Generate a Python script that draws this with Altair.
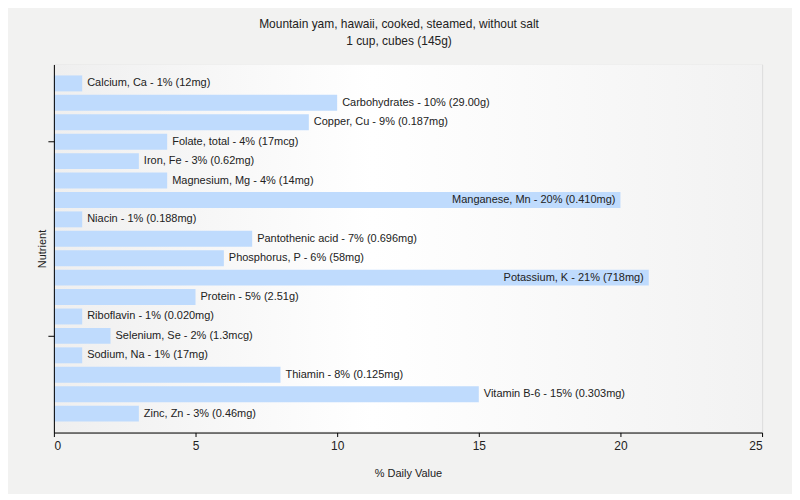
import altair as alt
import pandas as pd

nutrients = ["Calcium, Ca", "Carbohydrates", "Copper, Cu", "Folate, total", "Iron, Fe",
             "Magnesium, Mg", "Manganese, Mn", "Niacin", "Pantothenic acid", "Phosphorus, P",
             "Potassium, K", "Protein", "Riboflavin", "Selenium, Se", "Sodium, Na",
             "Thiamin", "Vitamin B-6", "Zinc, Zn"]
values = [1, 10, 9, 4, 3, 4, 20, 1, 7, 6, 21, 5, 1, 2, 1, 8, 15, 3]
amounts = ["12mg", "29.00g", "0.187mg", "17mcg", "0.62mg", "14mg", "0.410mg", "0.188mg",
           "0.696mg", "58mg", "718mg", "2.51g", "0.020mg", "1.3mcg", "17mg", "0.125mg",
           "0.303mg", "0.46mg"]

df = pd.DataFrame({"nutrient": nutrients, "value": values, "amount": amounts})
df["label"] = df["nutrient"] + " - " + df["value"].astype(str) + "% (" + df["amount"] + ")"

W, H = 710, 369

bg = alt.Chart(pd.DataFrame({"a": [0]})).mark_rect(
    color=alt.LinearGradient(
        gradient="linear", x1=0, x2=1, y1=0, y2=0,
        stops=[alt.GradientStop(color="#efefef", offset=0),
               alt.GradientStop(color="#ffffff", offset=0.45),
               alt.GradientStop(color="#f2f2f2", offset=1)])
).encode(x=alt.value(1), x2=alt.value(W), y=alt.value(0), y2=alt.value(H - 1))

yscale = alt.Scale(domain=nutrients, paddingInner=0.18, paddingOuter=0.565)
yenc = alt.Y("nutrient:N", sort=nutrients, title="Nutrient", scale=yscale,
             axis=alt.Axis(values=["Folate, total", "Selenium, Se"], labels=False,
                           tickSize=6, tickColor="black", domainColor="black",
                           titleFontSize=11, titleFontWeight="normal", titleColor="#222",
                           titlePadding=0, grid=False, zindex=1))
xscale = alt.Scale(domain=[0, 25], padding=0, nice=False, zero=True)
xenc = alt.X("value:Q", title="% Daily Value", scale=xscale,
             axis=alt.Axis(values=[0, 5, 10, 15, 20, 25], grid=True, gridColor="#dddddd",
                           tickSize=4, tickColor="black", domainColor="black",
                           labelFontSize=12, labelColor="#222", labelPadding=4,
                           titleFontSize=11, titleFontWeight="normal", titleColor="#222",
                           titlePadding=16))

bars = alt.Chart(df).mark_bar(color="#bfdbfd").encode(x=xenc, y=yenc)

text_out = alt.Chart(df).transform_filter("datum.value < 18").mark_text(
    align="left", dx=5, fontSize=11, color="#222"
).encode(x=alt.X("value:Q", scale=xscale), y=alt.Y("nutrient:N", sort=nutrients, scale=yscale),
         text="label:N")

text_in = alt.Chart(df).transform_filter("datum.value >= 18").mark_text(
    align="right", dx=-5, fontSize=11, color="#222"
).encode(x=alt.X("value:Q", scale=xscale), y=alt.Y("nutrient:N", sort=nutrients, scale=yscale),
         text="label:N")

chart = alt.layer(bg, bars, text_out, text_in).properties(
    width=W, height=H,
    title=alt.TitleParams(["Mountain yam, hawaii, cooked, steamed, without salt", "1 cup, cubes (145g)"],
                          fontSize=12, fontWeight="normal", color="#222", anchor="middle",
                          dx=-9, offset=17, lineHeight=17),
    background="#f2f2f1",
    autosize=alt.AutoSizeParams(type="none"),
    padding={"left": 46, "top": 56, "right": 30, "bottom": 61},
).configure_view(stroke=None).configure(font="Liberation Sans")

chart.save("out.html", embed_options={"renderer": "svg", "actions": False})
